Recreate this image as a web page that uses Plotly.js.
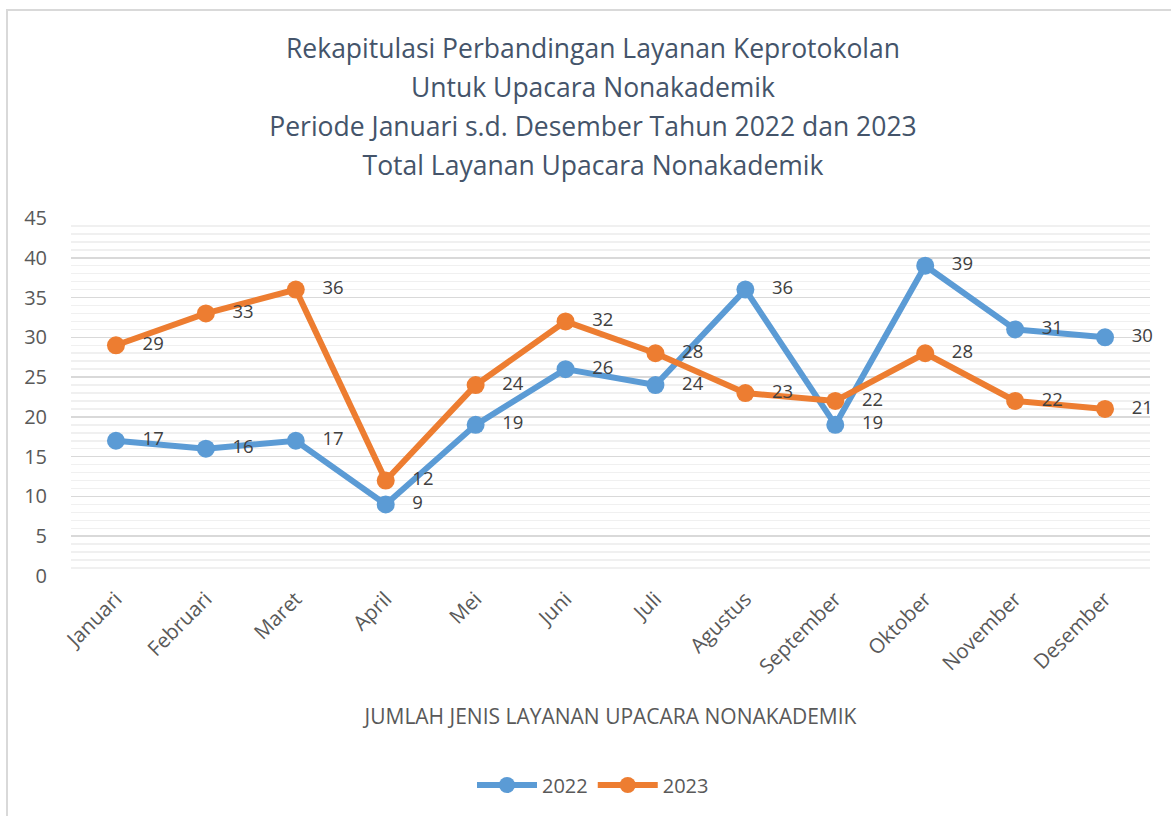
<!DOCTYPE html>
<html>
<head>
<meta charset="utf-8">
<script src="https://cdn.plot.ly/plotly-3.0.1.min.js"></script>
<style>
html,body{margin:0;padding:0;background:#fff;overflow:hidden;}
#frame{position:absolute;left:6px;top:9px;width:1300px;height:1000px;border:2px solid #d9d9d9;box-sizing:border-box;pointer-events:none;z-index:5;}
#chart{position:absolute;left:0;top:0;width:1171px;height:816px;}
</style>
</head>
<body>
<div id="chart"></div>
<div id="frame"></div>
<script>
var months = ["Januari","Februari","Maret","April","Mei","Juni","Juli","Agustus","September","Oktober","November","Desember"];
var values2022 = [17,16,17,9,19,26,24,36,19,39,31,30];
var values2023 = [29,33,36,12,24,32,28,23,22,28,22,21];
var seriesNames = ["2022","2023"];
var titleLines = [
  "Rekapitulasi Perbandingan Layanan Keprotokolan",
  "Untuk Upacara Nonakademik",
  "Periode Januari s.d. Desember Tahun 2022 dan 2023",
  "Total Layanan Upacara Nonakademik"
];
var xTitle = "JUMLAH JENIS LAYANAN UPACARA NONAKADEMIK";

var FONT = "Open Sans, Noto Sans, sans-serif";

function mk(name, ys, color){
  return {
    x: months, y: ys, name: name, type: "scatter",
    mode: "lines+markers+text",
    texttemplate: "   %{y}",
    textposition: "middle right",
    textfont: {family: FONT, size: 18.5, color: "#404040"},
    line: {color: color, width: 6},
    marker: {color: color, size: 18},
    cliponaxis: false
  };
}

var data = [mk(seriesNames[0], values2022, "#5b9bd5"), mk(seriesNames[1], values2023, "#ed7d31")];

var layout = {
  width: 1171, height: 816,
  margin: {l: 71, r: 21, t: 218, b: 240},
  paper_bgcolor: "#ffffff", plot_bgcolor: "#ffffff",
  font: {family: FONT, color: "#595959"},
  title: {
    text: titleLines.map(function(s){return '<span style="font-size:26.5px">'+s+'</span>';}).join("<br>"),
    font: {family: FONT, size: 30, color: "#44546a"},
    x: 593/1171, xref: "container", xanchor: "center",
    y: 1 - 58/816, yref: "container", yanchor: "top"
  },
  xaxis: {
    type: "category",
    range: [-0.5, 11.5],
    showgrid: false, zeroline: false, showline: false,
    ticks: "", tickangle: -45,
    tickfont: {family: FONT, size: 20.5, color: "#595959"},
    ticklabelstandoff: 6,
    title: {text: xTitle, font: {family: FONT, size: 21, color: "#595959"}, standoff: 30},
    automargin: false
  },
  yaxis: {
    range: [0, 45], dtick: 5, tick0: 0,
    showgrid: true, gridcolor: "#d9d9d9", gridwidth: 1.5,
    zeroline: false, showline: false, ticks: "",
    tickfont: {family: FONT, size: 20, color: "#595959"},
    ticklabelstandoff: 23,
    minor: {dtick: 1, showgrid: true, gridcolor: "#f0f0f0", gridwidth: 1.5},
    automargin: false
  },
  legend: {
    orientation: "h", x: 593/1171, xref: "container", xanchor: "center",
    y: 1 - 785/816, yref: "container", yanchor: "middle",
    font: {family: FONT, size: 20, color: "#595959"},
    itemwidth: 60
  },
  showlegend: true
};

Plotly.newPlot("chart", data, layout, {displayModeBar: false, staticPlot: true});
</script>
</body>
</html>
